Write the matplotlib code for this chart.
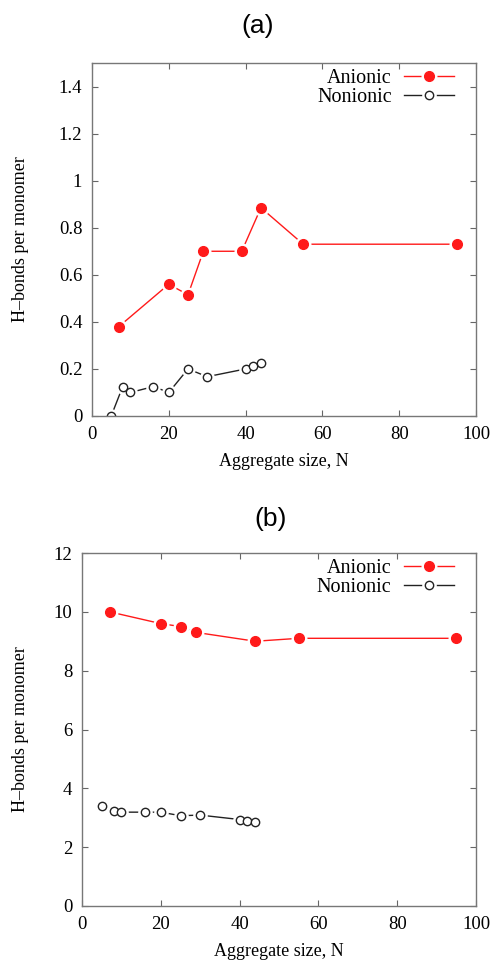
import numpy as np
import matplotlib as mpl
import matplotlib.pyplot as plt
from matplotlib.ticker import FuncFormatter
from matplotlib.legend_handler import HandlerTuple

mpl.rcParams["font.family"] = "Liberation Serif"

# ===== Data =====
# (a)
a_anionic_x = [7, 20, 25, 29, 39, 44, 55, 95]
a_anionic_y = [0.38, 0.56, 0.515, 0.70, 0.70, 0.885, 0.73, 0.73]
a_nonionic_x = [5, 8, 10, 16, 20, 25, 30, 40, 42, 44]
a_nonionic_y = [0.0, 0.125, 0.10, 0.125, 0.10, 0.20, 0.167, 0.20, 0.213, 0.226]

# (b)
b_anionic_x = [7, 20, 25, 29, 44, 55, 95]
b_anionic_y = [10.0, 9.6, 9.5, 9.3, 9.0, 9.1, 9.1]
b_nonionic_x = [5, 8, 10, 16, 20, 25, 30, 40, 42, 44]
b_nonionic_y = [3.4, 3.22, 3.19, 3.19, 3.19, 3.07, 3.09, 2.94, 2.89, 2.86]

red = "#ff1a1a"
dark = "#222222"

fig = plt.figure(figsize=(4.93, 9.64), dpi=100)
ax_a = fig.add_axes([92 / 493, 1 - 416 / 964, 384 / 493, 353 / 964])
ax_b = fig.add_axes([82 / 493, 1 - 906 / 964, 394 / 493, 353 / 964])


def fmt(v, pos):
    return ("%.1f" % v).rstrip("0").rstrip(".")


def series(ax, xs, ys, color, face, ms):
    # gnuplot-like: line stops short of the point
    ln, = ax.plot(xs, ys, color=color, lw=1.0)
    halo, = ax.plot(xs, ys, ls="none", marker="o", ms=ms + 3.5,
                    mfc="white", mec="white")
    pt, = ax.plot(xs, ys, ls="none", marker="o", ms=ms,
                  mfc=face, mec=color, mew=1.0)
    return (ln, halo, pt)


def style(ax, xs_an, ys_an, xs_non, ys_non, ylim, yticks, ylab_x):
    h_an = series(ax, xs_an, ys_an, red, red, 7.0)
    h_non = series(ax, xs_non, ys_non, dark, "white", 6.0)
    ax.set_xlim(0, 100)
    ax.set_ylim(*ylim)
    ax.set_xticks([0, 20, 40, 60, 80, 100])
    ax.set_yticks(yticks)
    ax.yaxis.set_major_formatter(FuncFormatter(fmt))
    ax.tick_params(direction="in", top=True, right=True, labelsize=13.5,
                   length=4, width=0.8, color="#666666", pad=7)
    for s in ax.spines.values():
        s.set_color("#777777")
        s.set_linewidth(1.0)
    ax.set_ylabel("H\u2013bonds per monomer", fontsize=13)
    ax.set_xlabel("Aggregate size, N", fontsize=13)
    ax.yaxis.set_label_coords(ylab_x, 0.5)
    ax.xaxis.set_label_coords(0.5, -0.105)
    ax.legend([h_an, h_non], ["Anionic", "Nonionic"],
              handler_map={tuple: HandlerTuple(ndivide=1)},
              loc="upper right", bbox_to_anchor=(0.99, 1.035),
              frameon=False, markerfirst=False, fontsize=14.5,
              handlelength=2.5, labelspacing=0.0, handletextpad=0.6)


style(ax_a, a_anionic_x, a_anionic_y, a_nonionic_x, a_nonionic_y,
      (0, 1.5), np.arange(0, 1.41, 0.2), -0.164)
style(ax_b, b_anionic_x, b_anionic_y, b_nonionic_x, b_nonionic_y,
      (0, 12), np.arange(0, 13, 2), -0.135)

fig.text(258 / 493, 1 - 26 / 964, "(a)", fontsize=19, family="Liberation Sans",
         ha="center", va="center")
fig.text(271 / 493, 1 - 519 / 964, "(b)", fontsize=19, family="Liberation Sans",
         ha="center", va="center")

plt.savefig("out.png", dpi=100)
